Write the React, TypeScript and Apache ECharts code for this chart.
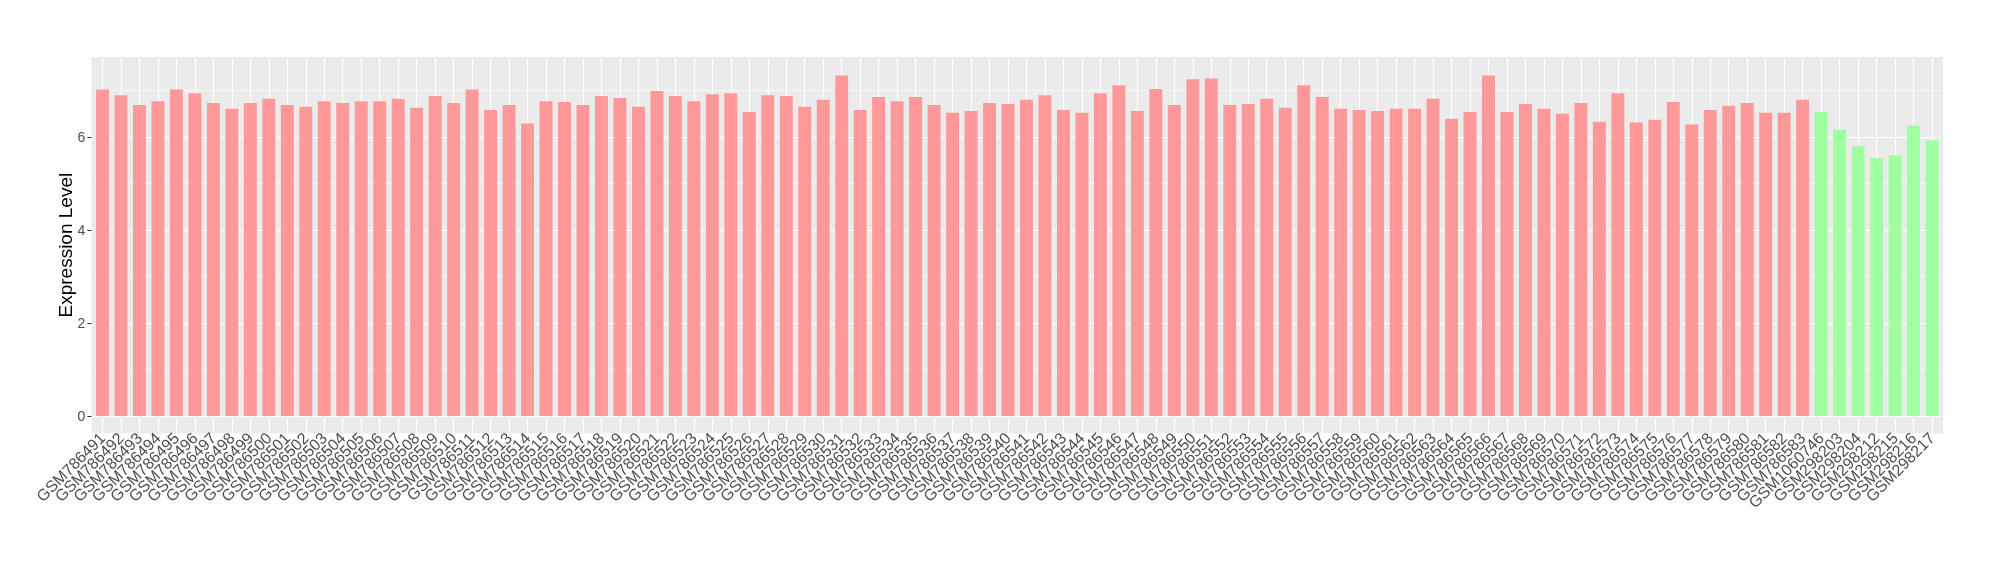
import React, { useEffect, useRef } from "react";
import * as echarts from "echarts";

const groupASamples = [
  "GSM786491", "GSM786492", "GSM786493", "GSM786494", "GSM786495", "GSM786496", "GSM786497", "GSM786498", "GSM786499", "GSM786500",
  "GSM786501", "GSM786502", "GSM786503", "GSM786504", "GSM786505", "GSM786506", "GSM786507", "GSM786508", "GSM786509", "GSM786510",
  "GSM786511", "GSM786512", "GSM786513", "GSM786514", "GSM786515", "GSM786516", "GSM786517", "GSM786518", "GSM786519", "GSM786520",
  "GSM786521", "GSM786522", "GSM786523", "GSM786524", "GSM786525", "GSM786526", "GSM786527", "GSM786528", "GSM786529", "GSM786530",
  "GSM786531", "GSM786532", "GSM786533", "GSM786534", "GSM786535", "GSM786536", "GSM786537", "GSM786538", "GSM786539", "GSM786540",
  "GSM786541", "GSM786542", "GSM786543", "GSM786544", "GSM786545", "GSM786546", "GSM786547", "GSM786548", "GSM786549", "GSM786550",
  "GSM786551", "GSM786552", "GSM786553", "GSM786554", "GSM786555", "GSM786556", "GSM786557", "GSM786558", "GSM786559", "GSM786560",
  "GSM786561", "GSM786562", "GSM786563", "GSM786564", "GSM786565", "GSM786566", "GSM786567", "GSM786568", "GSM786569", "GSM786570",
  "GSM786571", "GSM786572", "GSM786573", "GSM786574", "GSM786575", "GSM786576", "GSM786577", "GSM786578", "GSM786579", "GSM786580",
  "GSM786581", "GSM786582", "GSM786583",
];
const groupAValues = [
  7.02, 6.90, 6.69, 6.77, 7.02, 6.94, 6.73, 6.61, 6.73, 6.82,
  6.69, 6.65, 6.77, 6.73, 6.77, 6.77, 6.82, 6.63, 6.88, 6.73,
  7.02, 6.58, 6.69, 6.29, 6.77, 6.75, 6.69, 6.88, 6.84, 6.65,
  6.99, 6.88, 6.77, 6.92, 6.94, 6.54, 6.90, 6.88, 6.65, 6.80,
  7.32, 6.58, 6.86, 6.77, 6.86, 6.69, 6.52, 6.56, 6.73, 6.71,
  6.80, 6.90, 6.58, 6.52, 6.94, 7.11, 6.56, 7.03, 6.69, 7.24,
  7.26, 6.69, 6.71, 6.82, 6.63, 7.11, 6.86, 6.61, 6.58, 6.56,
  6.61, 6.61, 6.82, 6.39, 6.54, 7.32, 6.54, 6.71, 6.61, 6.50,
  6.73, 6.33, 6.94, 6.31, 6.37, 6.75, 6.27, 6.58, 6.67, 6.73,
  6.52, 6.52, 6.80,
];
const groupBSamples = ["GSM1060746", "GSM298203", "GSM298204", "GSM298212", "GSM298215", "GSM298216", "GSM298217"];
const groupBValues = [6.54, 6.16, 5.80, 5.55, 5.61, 6.25, 5.93];

const yMajorTicks = [0, 2, 4, 6];
const yMinorTicks = [1, 3, 5, 7];

const colorA = "#FF9898";
const colorB = "#A0FFA0";

export default function App() {
  const ref = useRef<HTMLDivElement>(null);

  useEffect(() => {
    if (!ref.current) return;
    const chart = echarts.init(ref.current, null, { renderer: "svg" });

    const samples = [...groupASamples, ...groupBSamples];
    const barData = [
      ...groupAValues.map((v) => ({ value: v, itemStyle: { color: colorA } })),
      ...groupBValues.map((v) => ({ value: v, itemStyle: { color: colorB } })),
    ];

    const gridLines = [
      ...yMinorTicks.map((y) => ({ yAxis: y, lineStyle: { color: "#FFFFFF", width: 0.6, type: "solid" } })),
      ...yMajorTicks.map((y) => ({ yAxis: y, lineStyle: { color: "#FFFFFF", width: 1.2, type: "solid" } })),
      ...samples.map((s) => ({ xAxis: s, lineStyle: { color: "#FFFFFF", width: 1.2, type: "solid" } })),
    ];

    const font = "Liberation Sans, Arial, Helvetica, sans-serif";

    chart.setOption({
      animation: false,
      graphic: [
        {
          type: "rect",
          silent: true,
          z: -1,
          shape: { x: 91.4, y: 57, width: 1851.7, height: 376.3 },
          style: { fill: "#EBEBEB" },
        },
      ],
      grid: {
        left: 93.26,
        right: 58.74,
        top: 57,
        bottom: 146.7,
        show: false,
      },
      xAxis: {
        type: "category",
        data: samples,
        boundaryGap: true,
        axisLine: { show: false },
        splitLine: { show: false },
        axisTick: {
          show: true,
          alignWithLabel: true,
          interval: 0,
          length: 4,
          lineStyle: { color: "#333333", width: 1 },
        },
        axisLabel: {
          interval: 0,
          rotate: 45,
          hideOverlap: false,
          padding: [15, 0, 0, 0],
          fontSize: 16,
          color: "#4D4D4D",
          fontFamily: font,
          margin: 2,
        },
      },
      yAxis: {
        type: "value",
        min: -0.37,
        max: 7.72,
        offset: 1.86,
        axisLine: { show: false },
        splitLine: { show: false },
        axisTick: {
          show: true,
          customValues: yMajorTicks,
          length: 4,
          lineStyle: { color: "#333333", width: 1 },
        },
        axisLabel: {
          customValues: yMajorTicks,
          showMinLabel: true,
          showMaxLabel: true,
          fontSize: 14,
          color: "#4D4D4D",
          fontFamily: font,
          margin: 6,
        },
        name: "Expression Level",
        nameLocation: "middle",
        nameMoveOverlap: false,
        nameGap: 16,
        nameTextStyle: { fontSize: 19, color: "#000000", fontFamily: font },
      },
      series: [
        {
          type: "line",
          data: [],
          z: 1,
          silent: true,
          markLine: {
            silent: true,
            z: 1,
            symbol: ["none", "none"],
            label: { show: false },
            emphasis: { disabled: true },
            data: gridLines,
          },
        },
        {
          type: "bar",
          z: 3,
          barWidth: "70%",
          data: barData,
        },
      ],
    });

    return () => chart.dispose();
  }, []);

  return (
    <div
      ref={ref}
      style={{ position: "fixed", left: 0, top: 0, width: 2000, height: 580 }}
    />
  );
}
